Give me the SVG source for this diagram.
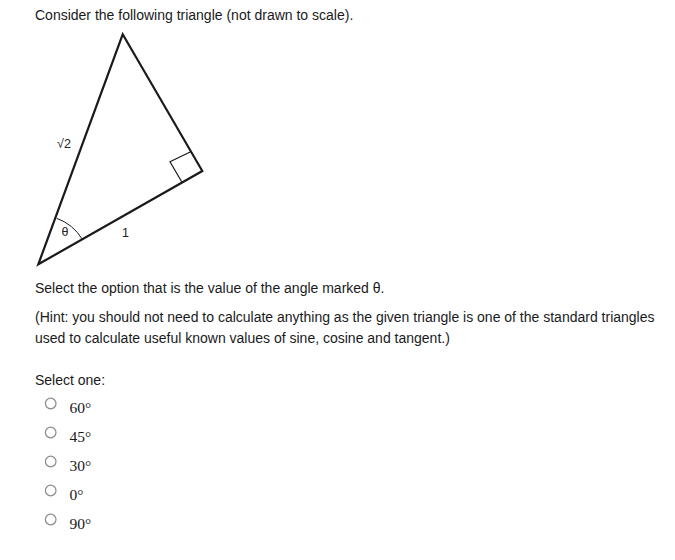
<svg xmlns="http://www.w3.org/2000/svg" width="675" height="560" viewBox="0 0 675 560">
<style>
.t{font-family:"Liberation Sans",Arial,sans-serif;font-size:14px;fill:#1a1a1a}
.o{font-family:"Liberation Serif","Times New Roman",serif;font-size:15.5px;fill:#1a1a1a}
.lbl{font-family:"Liberation Sans",Arial,sans-serif;font-size:12.5px;fill:#222}
.r{fill:#fff;stroke:#8a8a8a;stroke-width:1.2}
</style>
<rect width="675" height="560" fill="#fff"/>
<text class="t" x="35" y="19.5">Consider the following triangle (not drawn to scale).</text>
<g id="triangle">
<polygon points="122.7,34.3 202.3,171 38.3,264.3" fill="none" stroke="#1a1a1a" stroke-width="2.2" stroke-linejoin="miter"/>
<polyline points="190.7,151.7 170,161.7 181.7,181.7" fill="none" stroke="#1a1a1a" stroke-width="1.2"/>
<path d="M56.7,218.3 A50,50 0 0 1 82.3,239.3" fill="none" stroke="#1a1a1a" stroke-width="1"/>
<text class="lbl" x="65" y="236" text-anchor="middle" font-family="Liberation Serif">θ</text>
<text class="lbl" x="125.5" y="236.5" text-anchor="middle">1</text>
<text class="lbl" x="64" y="148" text-anchor="middle">√2</text>
</g>
<text class="t" x="35" y="292.5">Select the option that is the value of the angle marked θ.</text>
<text class="t" x="35" y="321.5">(Hint: you should not need to calculate anything as the given triangle is one of the standard triangles</text>
<text class="t" x="35" y="342.5">used to calculate useful known values of sine, cosine and tangent.)</text>
<text class="t" x="35" y="384.5">Select one:</text>
<g id="opt1"><circle class="r" cx="50.7" cy="403.5" r="5.3"/><text class="o" x="69.5" y="413">60°</text></g>
<g id="opt2"><circle class="r" cx="50.7" cy="432.5" r="5.3"/><text class="o" x="69.5" y="442">45°</text></g>
<g id="opt3"><circle class="r" cx="50.7" cy="461.5" r="5.3"/><text class="o" x="69.5" y="471">30°</text></g>
<g id="opt4"><circle class="r" cx="50.7" cy="490.5" r="5.3"/><text class="o" x="69.5" y="500">0°</text></g>
<g id="opt5"><circle class="r" cx="50.7" cy="519.5" r="5.3"/><text class="o" x="69.5" y="529">90°</text></g>
</svg>
